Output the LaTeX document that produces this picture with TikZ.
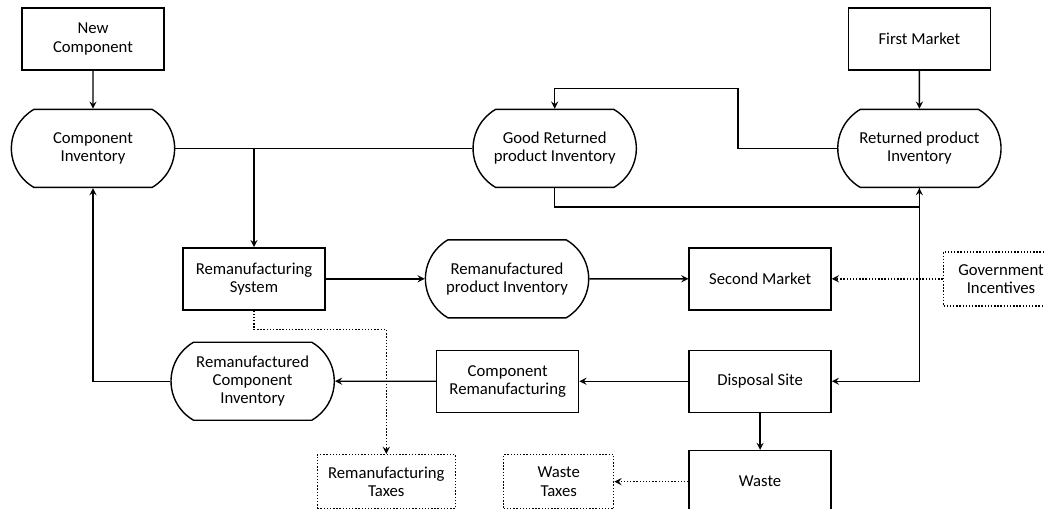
\documentclass[tikz,border=0pt]{standalone}
\usepackage{fontspec}
\setmainfont{Carlito}
\usepackage{tikz}
\usetikzlibrary{arrows, positioning, shapes.misc}
\tikzset{
    block/.style={rectangle, draw=black, thick, minimum width=2.84cm, minimum height=1.24cm, align=center},
    store/.style={rounded rectangle, rounded rectangle arc length=120, draw=black, thick, minimum width=3.5cm, minimum height=1.56cm, align=center},
    policy/.style={rectangle, draw=black, thick, densely dotted, minimum height=1.08cm, align=center},
    arrow/.style={->, >=stealth, thick},
    dotarrow/.style={->, >=stealth, thick, densely dotted}
}

\begin{document}
\begin{tikzpicture}[font=\fontsize{9.5}{10.4}\selectfont]
        \useasboundingbox (0,0) rectangle (20.88,-10.16);

        % --- Top row ---
        \node (NewComp) [block] at (1.86,-0.78) {New \\ Component};
        \node (CompInv) [store, below=0.76cm of NewComp] {Component \\ Inventory};
        \node (GoodRet) [store, right=5.94cm of CompInv] {Good Returned \\ product Inventory};
        \node (RetInv) [store, right=4cm of GoodRet] {Returned product \\ Inventory};
        \node (FirstMkt) [block, above=0.76cm of RetInv] {First Market};

        % --- Middle row ---
        \node (RemSys) [block, below=1.18cm of CompInv, xshift=3.22cm] {Remanufacturing \\ System};
        \node (RemProd) [store, right=1.98cm of RemSys] {Remanufactured \\ product Inventory};
        \node (SecMkt) [block, right=1.98cm of RemProd] {Second Market};
        \node (GovInc) [policy, minimum width=2.3cm, right=2.22cm of SecMkt] {Government \\ Incentives};

        % --- Lower row ---
        \node (Disposal) [block, below=0.78cm of SecMkt] {Disposal Site};
        \node (CompRem) [block, left=2.18cm of Disposal] {Component \\ Remanufacturing};
        \node (RemComp) [store, left=2.02cm of CompRem] {Remanufactured \\ Component \\ Inventory};

        % --- Bottom row ---
        \node (Waste) [block, below=0.74cm of Disposal] {Waste};
        \node (WasteTax) [policy, minimum width=2.2cm, left=1.48cm of Waste] {Waste \\ Taxes};
        \node (RemTax) [policy, minimum width=2.76cm, left=0.94cm of WasteTax] {Remanufacturing \\ Taxes};

        % --- Arrows ---
        \draw [arrow] (NewComp) -- (CompInv);
        \draw [thick] (CompInv.east) -- (GoodRet.west);
        \draw [arrow] (CompInv.east -| RemSys.north) -- (RemSys.north);
        \draw [arrow] (FirstMkt) -- (RetInv);
        \draw [arrow] (RetInv.west) -- ++(-1.98,0) |- ([yshift=0.4cm]GoodRet.north) -- (GoodRet.north);
        \draw [arrow] (GoodRet.south) -- ++(0,-0.38) -| (RetInv.south);
        \draw [arrow] (RetInv.south) |- (Disposal.east);

        \draw [arrow] (RemSys) -- (RemProd);
        \draw [arrow] (RemProd) -- (SecMkt);
        \draw [dotarrow] (GovInc) -- (SecMkt);

        \draw [arrow] (Disposal) -- (CompRem);
        \draw [arrow] (CompRem) -- (RemComp);
        \draw [arrow] (RemComp.west) -| (CompInv.south);

        \draw [dotarrow] (RemSys.south) -- ++(0,-0.38) -| (RemTax.north);
        \draw [arrow] (Disposal) -- (Waste);
        \draw [dotarrow] (Waste) -- (WasteTax);
\end{tikzpicture}
\end{document}
